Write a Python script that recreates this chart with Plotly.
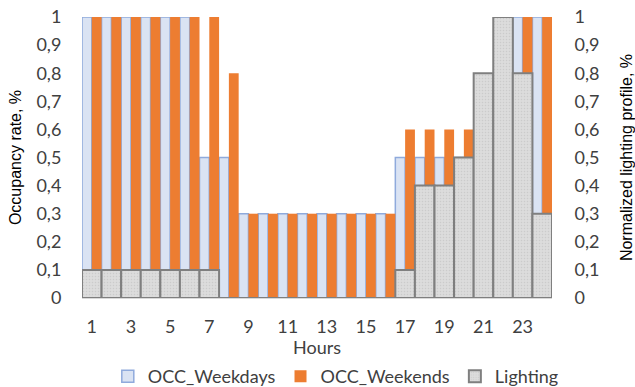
import plotly.graph_objects as go

# Hourly schedules (fraction of peak)
hours = list(range(1, 25))
occ_weekdays = [1, 1, 1, 1, 1, 1, 0.5, 0.5, 0.3, 0.3, 0.3, 0.3,
                0.3, 0.3, 0.3, 0.3, 0.5, 0.5, 0.5, 0.5, 0.5, 0.5, 1, 1]
occ_weekends = [1, 1, 1, 1, 1, 1, 1, 0.8, 0.3, 0.3, 0.3, 0.3,
                0.3, 0.3, 0.3, 0.3, 0.6, 0.6, 0.6, 0.6, 0.6, 0.6, 1, 1]
lighting = [0.1, 0.1, 0.1, 0.1, 0.1, 0.1, 0.1, 0, 0, 0, 0, 0,
            0, 0, 0, 0, 0.1, 0.4, 0.4, 0.5, 0.8, 1, 0.8, 0.3]
x_ticks = list(range(1, 24, 2))
y_ticks = [i / 10 for i in range(11)]

tick_font = dict(family="Lato", size=18, color="#404040")
title_font = dict(family="Liberation Sans, Arial", size=16, color="#000000")

fig = go.Figure()
fig.add_trace(go.Bar(
    x=hours, y=occ_weekdays, name="OCC_Weekdays",
    offset=-0.5, width=0.5,
    marker=dict(color="#dae3f3", line=dict(color="#8faadc", width=1.5)),
    yaxis="y",
))
fig.add_trace(go.Bar(
    x=hours, y=occ_weekends, name="OCC_Weekends",
    offset=0, width=0.5,
    marker=dict(color="#ed7d31", line=dict(color="#ed7d31", width=0)),
    yaxis="y",
))
fig.add_trace(go.Bar(
    x=hours, y=lighting, name="Lighting",
    offset=-0.5, width=1,
    marker=dict(
        color="#d9d9d9",
        line=dict(color="#7f7f7f", width=2),
        pattern=dict(shape=".", bgcolor="#dcdcdc", fgcolor="#cbcbcb",
                     size=3, solidity=0.2, fillmode="replace"),
    ),
    yaxis="y2",
))

fig.update_layout(
    width=635, height=387,
    margin=dict(l=82, r=83, t=17, b=89, autoexpand=False),
    paper_bgcolor="white", plot_bgcolor="white",
    barmode="overlay",
    separators=", ",
    showlegend=True,
    legend=dict(orientation="h", x=0.54, xanchor="center",
                yref="container", y=0.075, yanchor="top",
                font=dict(family="Lato", size=18, color="#404040"),
                traceorder="normal", itemwidth=30),
    xaxis=dict(
        range=[0.5, 24.5], tickmode="array", tickvals=x_ticks,
        ticktext=[str(v) for v in x_ticks],
        tickfont=tick_font, ticks="outside", ticklen=12,
        tickcolor="rgba(0,0,0,0)", showgrid=False, zeroline=False,
        showline=True, linecolor="#d9d9d9", linewidth=1, automargin=False,
        title=dict(text="Hours", font=dict(family="Lato", size=18, color="#404040"),
                   standoff=4),
    ),
    yaxis=dict(
        range=[0, 1], tickmode="array", tickvals=y_ticks,
        tickfont=tick_font, ticks="outside", ticklen=16,
        tickcolor="rgba(0,0,0,0)", showgrid=False, zeroline=False, automargin=False,
        title=dict(text="Occupancy rate, %", font=title_font, standoff=10),
    ),
    yaxis2=dict(
        range=[0, 1], tickmode="array", tickvals=y_ticks,
        overlaying="y", side="right",
        tickfont=tick_font, ticks="outside", ticklen=18,
        tickcolor="rgba(0,0,0,0)", showgrid=False, zeroline=False, automargin=False,
        title=dict(text="Normalized lighting profile, %", font=title_font, standoff=24),
    ),
)

fig.write_html("out.html")
